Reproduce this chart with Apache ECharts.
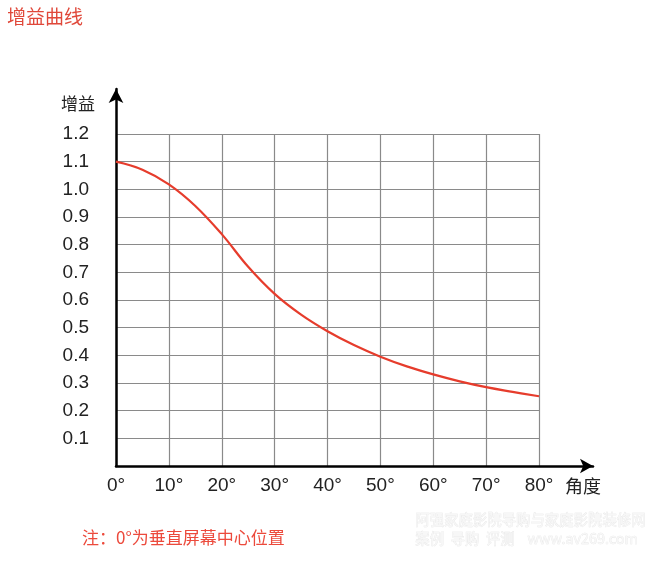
<!DOCTYPE html>
<html><head><meta charset="utf-8">
<script src="https://cdn.jsdelivr.net/npm/echarts@6/dist/echarts.min.js"></script>
<style>html,body{margin:0;padding:0;background:#fff}#c{width:662px;height:570px}</style>
</head><body><div id="c"></div>
<script>
var angles = [0, 5, 10, 15, 20, 25, 30, 35, 40, 45, 50, 55, 60, 65, 70, 75, 80];
var gains = [1.10, 1.071, 1.018, 0.94, 0.838, 0.72, 0.622, 0.547, 0.487, 0.437, 0.395, 0.36, 0.331, 0.306, 0.285, 0.268, 0.252];
var title = '增益曲线';
var yName = '增益';
var xName = '角度';
var note = '注：0°为垂直屏幕中心位置';
var wm1 = '阿强家庭影院导购与家庭影院装修网';
var wm2 = '案例  导购  评测    www.av269.com';

var chart = echarts.init(document.getElementById('c'), null, {renderer: 'canvas'});
var latin = '"Liberation Sans", Arial, "Noto Sans CJK SC", sans-serif';
var cjk = '"Noto Sans CJK SC", sans-serif';
var red = '#e63c2c';
chart.setOption({
  animation: false,
  backgroundColor: '#fff',
  graphic: [
    {type: 'text', left: 7, top: 7, style: {text: title, fill: '#e0483a', font: '19px ' + cjk}},
    {type: 'text', left: 82, top: 529, style: {text: note, fill: '#ec4a3c', font: '17px ' + cjk}},
    {type: 'text', left: 415, top: 512, style: {text: wm1, fill: '#f7f7f7', stroke: '#e6e6e6', lineWidth: 0.6, font: '14.4px ' + cjk}},
    {type: 'text', left: 415, top: 531, style: {text: wm2, fill: '#f7f7f7', stroke: '#e6e6e6', lineWidth: 0.6, font: '14.4px ' + cjk}}
  ],
  grid: [
    {left: 116, top: 134, width: 423, height: 332},
    {left: 116, top: 89, width: 477, height: 377}
  ],
  xAxis: [
    {type: 'value', gridIndex: 0, min: 0, max: 80, interval: 10,
     name: xName, nameLocation: 'end', nameGap: 26,
     nameTextStyle: {color: '#222', fontSize: 18, fontFamily: cjk, verticalAlign: 'top', padding: [11, 0, 0, 0]},
     axisLine: {show: false}, axisTick: {show: false},
     axisLabel: {formatter: '{value}°', color: '#222', fontSize: 19, fontFamily: latin, margin: 10},
     splitLine: {show: true, lineStyle: {color: '#8a8a8a', width: 1.2}}},
    {type: 'value', gridIndex: 1, min: 0, max: 1,
     axisLine: {show: true, symbol: ['none', 'arrow'], symbolSize: [11, 13], lineStyle: {color: '#000', width: 2.5}},
     axisTick: {show: false}, axisLabel: {show: false}, splitLine: {show: false}}
  ],
  yAxis: [
    {type: 'value', gridIndex: 0, min: 0, max: 1.2, interval: 0.1,
     name: yName, nameLocation: 'end', nameGap: 22,
     nameTextStyle: {color: '#222', fontSize: 17, fontFamily: cjk, align: 'right', padding: [0, 21, 0, 0]},
     axisLine: {show: false}, axisTick: {show: false},
     axisLabel: {showMinLabel: false, formatter: function (v) { return v.toFixed(1); }, color: '#222', fontSize: 19, fontFamily: latin, margin: 27},
     splitLine: {show: true, lineStyle: {color: '#8a8a8a', width: 1.2}}},
    {type: 'value', gridIndex: 1, min: 0, max: 1,
     axisLine: {show: true, symbol: ['none', 'arrow'], symbolSize: [11, 14], lineStyle: {color: '#000', width: 2.5}},
     axisTick: {show: false}, axisLabel: {show: false}, splitLine: {show: false}}
  ],
  series: [{
    type: 'line', xAxisIndex: 0, yAxisIndex: 0, smooth: 0.4, showSymbol: false,
    lineStyle: {color: red, width: 2.2},
    data: angles.map(function (a, i) { return [a, gains[i]]; })
  }]
});
</script></body></html>
